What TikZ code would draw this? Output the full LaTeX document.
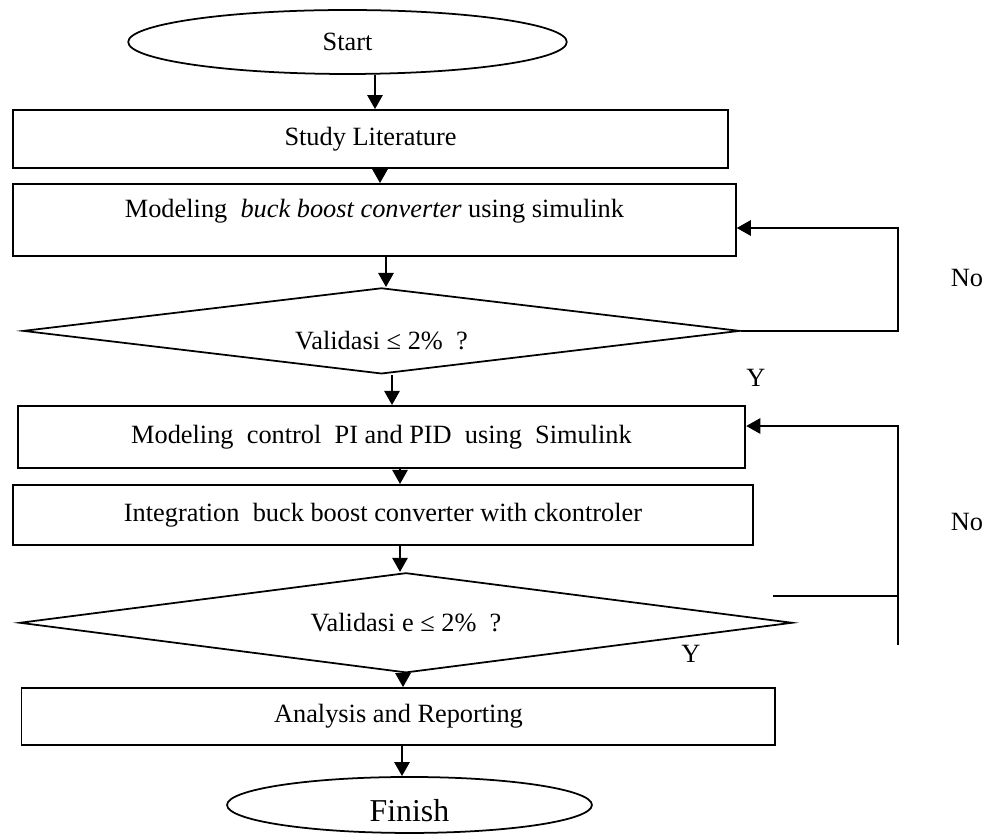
\documentclass[tikz,border=0pt]{standalone}
\usepackage{fontspec}
\setmainfont{Liberation Serif}
\usepackage{tikz}
\usetikzlibrary{shapes.geometric, arrows.meta, positioning}
\tikzstyle{terminal} = [ellipse, inner sep=0pt, text centered, draw=black, thick]
\tikzstyle{process} = [rectangle, inner sep=0pt, text centered, draw=black, thick]
\tikzstyle{decision} = [diamond, inner sep=0pt, text centered, draw=black, thick]
\tikzstyle{arrow} = [thick,-{Triangle[length=6.4pt,width=7pt]}]
\tikzstyle{line} = [thick]

\begin{document}
\begin{tikzpicture}[x=0.016cm, y=0.016cm, node distance=1.5cm, font=\fontsize{12}{14}\selectfont]
\useasboundingbox (0,0) rectangle (992,-836);

\node (start) [terminal, minimum width=7.02cm, minimum height=1.024cm] at (347.5,-42) {Start};
\node (study) [process, below of=start, xshift=0.368cm, yshift=-0.052cm, minimum width=11.44cm, minimum height=0.928cm] {Study Literature};
\node (model) [process, below of=study, xshift=0.064cm, yshift=0.204cm, minimum width=11.568cm, minimum height=1.152cm, text depth=0.38cm] {Modeling\ \ \textit{buck boost converter} using simulink};
\node (valid1) [decision, below of=model, xshift=0.112cm, yshift=-0.276cm, minimum width=11.472cm, minimum height=1.376cm, aspect=8.3, text height=0.59cm] {Validasi ≤ 2\%\ \ ?};
\node (ctrl) [process, below of=valid1, yshift=-0.196cm, minimum width=11.648cm, minimum height=0.992cm] {Modeling\ \ control\ \ PI and PID\ \ using\ \ Simulink};
\node (integ) [process, below of=ctrl, xshift=0.024cm, yshift=0.252cm, minimum width=11.856cm, minimum height=0.96cm] {Integration\ \ buck boost converter with ckontroler};
\node (valid2) [decision, below of=integ, xshift=0.368cm, yshift=-0.228cm, minimum width=12.368cm, minimum height=1.6cm, aspect=7.7] {Validasi e ≤ 2\%\ \ ?};
\node (report) [process, below of=valid2, xshift=-0.12cm, minimum width=12.064cm, minimum height=0.912cm] {Analysis and Reporting};
\node (finish) [terminal, below of=report, xshift=0.176cm, yshift=0.084cm, minimum width=5.84cm, minimum height=0.896cm, text height=0.55cm, font=\fontsize{14.5}{17}\selectfont] {Finish};

\node (no1) at (967,-278) {No};
\node (yes1) at (756,-378) {Y};
\node (no2) at (967,-522) {No};
\node (yes2) at (691,-654) {Y};

\coordinate (back1) at (898,-228);
\coordinate (back2) at (898,-426);
\coordinate (foot2) at (898,-645);
\coordinate (tail2) at (773,-596);

\draw [arrow] (start.south -| 375,0) -- (study.north -| 375,0);
\draw [arrow] (study.south -| 380,0) -- (model.north -| 380,0);
\draw [arrow] (model.south -| 386,0) -- (valid1.north -| 386,0);
\draw [arrow] (valid1.south -| 392,0) -- (ctrl.north -| 392,0);
\draw [arrow] (ctrl.south -| 400,0) -- (integ.north -| 400,0);
\draw [arrow] (integ.south -| 400,0) -- (valid2.north -| 400,0);
\draw [arrow] (valid2.south -| 403,0) -- (report.north -| 403,0);
\draw [arrow] (report.south -| 402,0) -- (finish.north -| 402,0);

\draw [arrow] (valid1.east) -| (back1) -- (back1 -| model.east);
\draw [line] (tail2) -- (tail2 -| back2);
\draw [arrow] (foot2) -- (back2) -- (back2 -| ctrl.east);

\end{tikzpicture}
\end{document}
